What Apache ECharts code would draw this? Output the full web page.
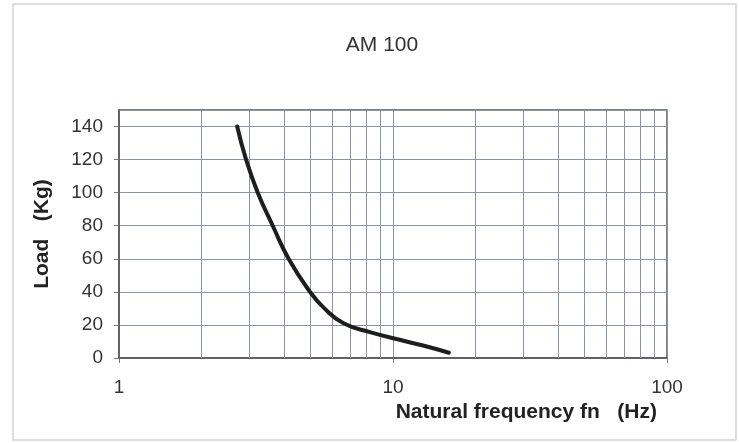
<!DOCTYPE html>
<html><head><meta charset="utf-8">
<script src="https://cdn.jsdelivr.net/npm/echarts@6/dist/echarts.min.js"></script>
<style>html,body{margin:0;padding:0;background:#fff}#c{width:739px;height:443px}</style>
</head><body><div id="c"></div>
<script>
const titleText = "AM 100";
const xName = "Natural frequency fn   (Hz)";
const yName = "Load   (Kg)";
const freq = [2.70, 2.91, 3.21, 3.64, 4.16, 4.98, 5.62, 6.6, 8.3, 11.2, 13.6, 16.0];
const load = [140, 120, 100, 80, 60, 40, 30, 21, 15.5, 10, 6.5, 3.2];
const xTicks = [1, 10, 100];
const yTicks = [0, 20, 40, 60, 80, 100, 120, 140];
const minorGrid = [2,3,4,5,6,7,8,9,20,30,40,50,60,70,80,90];

const chart = echarts.init(document.getElementById('c'), null, {renderer:'canvas'});
const font = "Arial, 'Liberation Sans', sans-serif";
chart.setOption({
  animation:false,
  backgroundColor:'#fff',
  graphic:[{type:'rect', shape:{x:13,y:4,width:723,height:436}, style:{fill:'none', stroke:'#d4d4d4', lineWidth:1.5}, silent:true}],
  title:{text:titleText, left:377, top:30, textAlign:'center', textStyle:{fontFamily:font, fontSize:21, fontWeight:'normal', color:'#333'}},
  grid:{left:119, right:72, top:110, bottom:85, show:true, borderColor:'#555', borderWidth:1.5, backgroundColor:'transparent'},
  xAxis:{type:'log', logBase:10, min:1, max:100,
    name:xName, nameLocation:'end', nameGap:0,
    nameTextStyle:{fontFamily:font, fontSize:21, fontWeight:'bold', color:'#222', align:'right', verticalAlign:'top', padding:[44,10,0,0]},
    axisLine:{lineStyle:{color:'#555', width:1.5}},
    axisTick:{show:true, length:5, lineStyle:{color:'#777'}},
    axisLabel:{fontFamily:font, fontSize:19, color:'#333', margin:20,
      formatter:v=> xTicks.includes(Math.round(v)) ? String(Math.round(v)) : ''},
    splitLine:{show:true, lineStyle:{color:'#8a92aa', width:1}},
    minorTick:{show:false}
  },
  yAxis:{type:'value', min:0, max:150, interval:20,
    name:yName, nameLocation:'middle', nameGap:66, nameRotate:90,
    nameTextStyle:{fontFamily:font, fontSize:21, fontWeight:'bold', color:'#222'},
    axisLine:{show:true, lineStyle:{color:'#555', width:1.5}},
    axisTick:{show:true, length:5, lineStyle:{color:'#777'}},
    axisLabel:{fontFamily:font, fontSize:19, color:'#333', margin:16, showMaxLabel:false,
      formatter:v=> yTicks.includes(v) ? String(v) : ''},
    splitLine:{show:true, lineStyle:{color:'#8a92aa', width:1}}
  },
  series:[
    {type:'line', data:[], silent:true,
      markLine:{silent:true, symbol:'none', label:{show:false},
        lineStyle:{color:'#8a92aa', width:1, type:'solid'},
        data:minorGrid.map(v=>({xAxis:v}))}},
    {type:'line', data:freq.map((f,i)=>[f,load[i]]), smooth:0.5, showSymbol:false,
      lineStyle:{color:'#1e1e1e', width:4, cap:'round'}, z:5}
  ]
});
</script></body></html>
